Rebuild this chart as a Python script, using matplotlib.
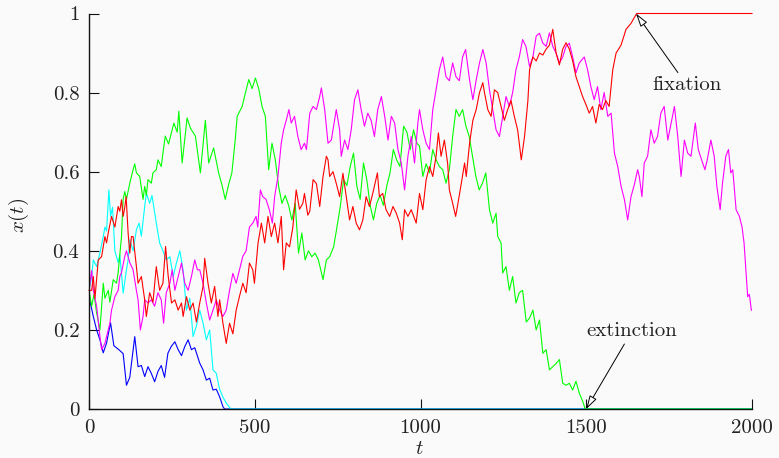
import matplotlib
matplotlib.use("Agg")
import matplotlib.pyplot as plt

plt.rcParams['font.family'] = 'serif'
plt.rcParams['font.serif'] = ['cmr10', 'DejaVu Serif']
plt.rcParams['mathtext.fontset'] = 'cm'
plt.rcParams['axes.formatter.use_mathtext'] = True

# ---- data: (t, x) pairs ----
blue = [(0, 0.30), (2, 0.276), (13, 0.234), (23, 0.20), (33, 0.175), (43, 0.142), (53, 0.167),
        (65, 0.218), (75, 0.16), (90, 0.15), (103, 0.14), (113, 0.06), (123, 0.08), (138, 0.183),
        (148, 0.107), (158, 0.11), (168, 0.082), (178, 0.107), (188, 0.09), (198, 0.069),
        (208, 0.095), (218, 0.11), (228, 0.08), (238, 0.141), (248, 0.158), (259, 0.17),
        (269, 0.15), (279, 0.135), (289, 0.158), (299, 0.175), (309, 0.15), (319, 0.155),
        (334, 0.116), (344, 0.099), (354, 0.073), (364, 0.078), (374, 0.048), (384, 0.05),
        (394, 0.031), (404, 0.006), (409, 0.0), (2000, 0.0)]

cyan = [(0, 0.30), (8, 0.335), (13, 0.377), (23, 0.36), (33, 0.395), (43, 0.436), (48, 0.46),
        (53, 0.45), (60, 0.554), (65, 0.487), (71, 0.51), (78, 0.40), (88, 0.37), (93, 0.39),
        (103, 0.293), (113, 0.352), (118, 0.377), (123, 0.428), (133, 0.40), (143, 0.453),
        (151, 0.47), (158, 0.437), (168, 0.512), (173, 0.546), (183, 0.52), (190, 0.54),
        (203, 0.47), (213, 0.42), (223, 0.40), (233, 0.377), (244, 0.385), (254, 0.335),
        (264, 0.37), (274, 0.40), (284, 0.35), (294, 0.25), (304, 0.28), (314, 0.183),
        (324, 0.21), (334, 0.25), (344, 0.217), (354, 0.175), (364, 0.20), (374, 0.099),
        (384, 0.09), (394, 0.05), (404, 0.03), (414, 0.015), (428, 0.0), (2000, 0.0)]

red = [(0, 0.30), (8, 0.30), (13, 0.335), (18, 0.28), (28, 0.377), (38, 0.385), (48, 0.436),
       (53, 0.42), (58, 0.445), (68, 0.487), (78, 0.46), (88, 0.512), (93, 0.50), (98, 0.529),
       (103, 0.487), (108, 0.51), (112, 0.537), (118, 0.445), (123, 0.394), (128, 0.436),
       (133, 0.436), (143, 0.36), (148, 0.318), (158, 0.335), (168, 0.276), (173, 0.234),
       (183, 0.294), (193, 0.27), (203, 0.36), (213, 0.30), (223, 0.318), (231, 0.411),
       (239, 0.335), (249, 0.268), (259, 0.276), (269, 0.25), (279, 0.268), (284, 0.234),
       (294, 0.284), (304, 0.25), (314, 0.268), (324, 0.22), (334, 0.268), (344, 0.31),
       (349, 0.381), (359, 0.318), (369, 0.268), (379, 0.31), (389, 0.234), (394, 0.276),
       (404, 0.217), (414, 0.166), (424, 0.217), (434, 0.19), (444, 0.25), (454, 0.285),
       (464, 0.318), (474, 0.294), (484, 0.369), (494, 0.352), (499, 0.318), (510, 0.42),
       (520, 0.47), (530, 0.42), (540, 0.487), (550, 0.436), (560, 0.47), (570, 0.42),
       (580, 0.487), (587, 0.352), (595, 0.42), (605, 0.41), (615, 0.46), (625, 0.554),
       (635, 0.505), (645, 0.52), (650, 0.545), (660, 0.49), (666, 0.50), (676, 0.58),
       (686, 0.57), (696, 0.512), (706, 0.588), (716, 0.639), (721, 0.63), (726, 0.588),
       (736, 0.60), (746, 0.57), (756, 0.537), (766, 0.596), (776, 0.537), (786, 0.478),
       (796, 0.512), (806, 0.47), (816, 0.453), (826, 0.478), (836, 0.537), (846, 0.512),
       (856, 0.545), (870, 0.597), (876, 0.537), (886, 0.545), (896, 0.504), (907, 0.487),
       (917, 0.512), (927, 0.495), (937, 0.47), (945, 0.428), (952, 0.504), (962, 0.487),
       (972, 0.504), (987, 0.47), (997, 0.545), (1007, 0.504), (1017, 0.58), (1027, 0.613),
       (1037, 0.588), (1047, 0.639), (1054, 0.698), (1062, 0.639), (1072, 0.68), (1082, 0.62),
       (1087, 0.554), (1097, 0.52), (1106, 0.487), (1113, 0.52), (1123, 0.57), (1133, 0.622),
       (1138, 0.588), (1148, 0.672), (1158, 0.73), (1168, 0.757), (1178, 0.80), (1188, 0.825),
       (1193, 0.80), (1203, 0.757), (1213, 0.74), (1223, 0.807), (1233, 0.80), (1243, 0.765),
       (1253, 0.73), (1263, 0.757), (1273, 0.78), (1283, 0.74), (1293, 0.706), (1304, 0.63),
       (1314, 0.69), (1324, 0.78), (1329, 0.858), (1339, 0.89), (1349, 0.88), (1359, 0.90),
       (1369, 0.895), (1379, 0.91), (1389, 0.92), (1399, 0.96), (1409, 0.90), (1419, 0.87),
       (1429, 0.91), (1439, 0.926), (1449, 0.91), (1459, 0.88), (1469, 0.84), (1479, 0.815),
       (1489, 0.79), (1499, 0.77), (1509, 0.748), (1519, 0.765), (1529, 0.723), (1539, 0.77),
       (1549, 0.757), (1559, 0.78), (1569, 0.765), (1580, 0.858), (1590, 0.90), (1605, 0.92),
       (1620, 0.96), (1635, 0.975), (1645, 0.99), (1652, 1.0), (2000, 1.0)]

green = [(0, 0.30), (8, 0.26), (15, 0.29), (23, 0.243), (33, 0.20), (43, 0.318), (48, 0.28),
         (58, 0.30), (63, 0.27), (73, 0.327), (83, 0.318), (88, 0.345), (98, 0.436), (103, 0.53),
         (108, 0.55), (113, 0.53), (123, 0.571), (128, 0.588), (133, 0.605), (138, 0.62),
         (143, 0.597), (153, 0.588), (163, 0.53), (168, 0.563), (173, 0.54), (178, 0.58),
         (188, 0.571), (193, 0.597), (203, 0.605), (208, 0.63), (218, 0.613), (223, 0.647),
         (230, 0.69), (240, 0.67), (256, 0.723), (266, 0.70), (271, 0.753), (281, 0.622),
         (296, 0.736), (306, 0.71), (321, 0.69), (336, 0.597), (351, 0.73), (361, 0.622),
         (376, 0.66), (391, 0.597), (401, 0.567), (411, 0.53), (421, 0.567), (431, 0.597),
         (441, 0.68), (447, 0.74), (462, 0.765), (472, 0.80), (482, 0.833), (492, 0.81),
         (502, 0.837), (512, 0.81), (522, 0.765), (532, 0.74), (542, 0.605), (552, 0.672),
         (562, 0.63), (572, 0.563), (582, 0.52), (592, 0.54), (602, 0.515), (612, 0.478),
         (622, 0.52), (632, 0.394), (642, 0.445), (652, 0.377), (662, 0.40), (672, 0.385),
         (682, 0.394), (692, 0.377), (706, 0.327), (716, 0.377), (726, 0.385), (738, 0.41),
         (748, 0.46), (758, 0.512), (768, 0.58), (778, 0.565), (788, 0.613), (798, 0.647),
         (808, 0.563), (818, 0.53), (828, 0.622), (838, 0.58), (848, 0.515), (858, 0.478),
         (868, 0.52), (878, 0.54), (888, 0.515), (898, 0.563), (908, 0.597), (918, 0.656),
         (928, 0.63), (938, 0.613), (949, 0.715), (959, 0.70), (969, 0.656), (979, 0.706),
         (989, 0.672), (997, 0.665), (1007, 0.588), (1017, 0.62), (1027, 0.597), (1037, 0.656),
         (1047, 0.63), (1057, 0.613), (1067, 0.605), (1077, 0.571), (1087, 0.605), (1097, 0.689),
         (1107, 0.757), (1117, 0.74), (1127, 0.757), (1137, 0.715), (1147, 0.689), (1157, 0.639),
         (1167, 0.588), (1177, 0.554), (1187, 0.571), (1197, 0.597), (1208, 0.504), (1218, 0.47),
         (1228, 0.495), (1233, 0.436), (1243, 0.42), (1248, 0.344), (1258, 0.36), (1268, 0.30),
         (1278, 0.335), (1288, 0.268), (1298, 0.294), (1308, 0.30), (1319, 0.22), (1329, 0.23),
         (1339, 0.25), (1349, 0.20), (1359, 0.225), (1369, 0.141), (1379, 0.15), (1389, 0.099),
         (1399, 0.107), (1409, 0.115), (1419, 0.125), (1429, 0.065), (1439, 0.06), (1449, 0.065),
         (1459, 0.048), (1469, 0.07), (1479, 0.04), (1489, 0.02), (1497, 0.0), (2000, 0.0)]

magenta = [(0, 0.30), (8, 0.35), (13, 0.30), (23, 0.26), (33, 0.183), (38, 0.15), (48, 0.166),
           (58, 0.20), (63, 0.217), (68, 0.25), (78, 0.284), (88, 0.30), (93, 0.335), (98, 0.345),
           (108, 0.386), (113, 0.40), (123, 0.37), (133, 0.352), (143, 0.30), (148, 0.276),
           (155, 0.20), (163, 0.234), (168, 0.276), (178, 0.268), (188, 0.276), (198, 0.26),
           (208, 0.294), (218, 0.276), (225, 0.217), (233, 0.294), (244, 0.318), (251, 0.352),
           (259, 0.30), (269, 0.335), (279, 0.369), (289, 0.318), (299, 0.30), (309, 0.335),
           (319, 0.377), (327, 0.352), (334, 0.352), (344, 0.318), (354, 0.268), (364, 0.225),
           (374, 0.25), (384, 0.276), (394, 0.25), (404, 0.234), (414, 0.25), (424, 0.30),
           (434, 0.343), (444, 0.318), (454, 0.352), (464, 0.386), (474, 0.40), (484, 0.46),
           (494, 0.47), (504, 0.487), (509, 0.46), (517, 0.554), (524, 0.537), (534, 0.53),
           (544, 0.504), (553, 0.47), (560, 0.537), (570, 0.588), (580, 0.672), (587, 0.706),
           (595, 0.73), (603, 0.757), (610, 0.723), (620, 0.74), (630, 0.689), (640, 0.656),
           (650, 0.672), (656, 0.656), (666, 0.748), (676, 0.765), (686, 0.757), (696, 0.79),
           (701, 0.812), (711, 0.757), (721, 0.672), (731, 0.68), (736, 0.706), (746, 0.757),
           (756, 0.706), (761, 0.639), (771, 0.68), (781, 0.656), (791, 0.706), (801, 0.782),
           (811, 0.807), (821, 0.757), (831, 0.715), (841, 0.748), (851, 0.73), (861, 0.689),
           (871, 0.757), (882, 0.79), (892, 0.74), (902, 0.68), (912, 0.74), (922, 0.723),
           (932, 0.656), (942, 0.622), (952, 0.554), (962, 0.639), (972, 0.689), (982, 0.622),
           (992, 0.723), (997, 0.757), (1007, 0.706), (1017, 0.672), (1027, 0.656), (1037, 0.757),
           (1047, 0.807), (1057, 0.858), (1067, 0.89), (1077, 0.84), (1087, 0.83), (1097, 0.875),
           (1107, 0.84), (1117, 0.83), (1127, 0.89), (1136, 0.909), (1148, 0.832), (1158, 0.782),
           (1168, 0.832), (1178, 0.875), (1188, 0.909), (1198, 0.875), (1208, 0.807), (1218, 0.757),
           (1228, 0.706), (1238, 0.689), (1248, 0.74), (1258, 0.79), (1268, 0.765), (1278, 0.80),
           (1288, 0.858), (1298, 0.89), (1308, 0.934), (1318, 0.917), (1329, 0.866), (1339, 0.89),
           (1349, 0.943), (1359, 0.95), (1369, 0.925), (1379, 0.917), (1389, 0.951), (1399, 0.917),
           (1409, 0.90), (1419, 0.875), (1429, 0.89), (1439, 0.917), (1449, 0.925), (1459, 0.89),
           (1469, 0.85), (1479, 0.875), (1494, 0.89), (1504, 0.858), (1514, 0.815), (1524, 0.782),
           (1534, 0.815), (1544, 0.757), (1554, 0.80), (1565, 0.74), (1575, 0.748), (1585, 0.647),
           (1595, 0.613), (1605, 0.563), (1615, 0.53), (1625, 0.478), (1635, 0.537), (1645, 0.567),
           (1655, 0.605), (1660, 0.588), (1668, 0.537), (1675, 0.622), (1685, 0.639), (1695, 0.706),
           (1705, 0.672), (1715, 0.689), (1725, 0.748), (1735, 0.765), (1746, 0.68), (1756, 0.723),
           (1766, 0.765), (1776, 0.689), (1786, 0.588), (1796, 0.68), (1806, 0.647), (1816, 0.639),
           (1829, 0.723), (1838, 0.656), (1848, 0.63), (1858, 0.605), (1865, 0.63), (1876, 0.68),
           (1886, 0.639), (1894, 0.563), (1904, 0.504), (1911, 0.571), (1921, 0.639), (1929, 0.656),
           (1936, 0.597), (1942, 0.605), (1952, 0.504), (1962, 0.487), (1970, 0.46), (1976, 0.42),
           (1987, 0.284), (1992, 0.29), (1998, 0.25), (2000, 0.25)]

x_ticks = [0, 500, 1000, 1500, 2000]
x_tick_labels = ['0', '500', '1000', '1500', '2000']
y_ticks = [0, 0.2, 0.4, 0.6, 0.8, 1]
y_tick_labels = ['0', '0.2', '0.4', '0.6', '0.8', '1']

series = [(blue, '#0000ff', True), (cyan, '#00ffff', True), (green, '#00ff00', True),
          (magenta, '#ff00ff', True), (red, '#ff0000', False)]

bg = '#fafafa'
fig = plt.figure(figsize=(7.79, 4.58), dpi=100, facecolor=bg)
ax = fig.add_axes([89 / 779, 1 - 409 / 458, 663 / 779, 395.5 / 458])
ax.set_facecolor(bg)

for data, col, clip in series:
    ts, xs = zip(*data)
    ax.plot(ts, xs, color=col, lw=0.8, zorder=2, clip_on=clip)

ax.set_xlim(0, 2000)
ax.set_ylim(0, 1)
ax.spines['top'].set_visible(False)
ax.spines['right'].set_visible(False)
for s in ('left', 'bottom'):
    ax.spines[s].set_linewidth(1.0)
    ax.spines[s].set_color('#111111')
    ax.spines[s].set_zorder(3)

ax.set_xticks(x_ticks)
ax.set_xticklabels(x_tick_labels)
ax.set_yticks(y_ticks)
ax.set_yticklabels(y_tick_labels)
ax.tick_params(direction='in', length=7, width=0.8, labelsize=15, pad=7,
               color='#111111', labelcolor='#222222')

ax.set_xlabel('$t$', fontsize=15, color='#222222')
ax.xaxis.set_label_coords(0.499, -0.078)
ax.set_ylabel('$x(t)$', fontsize=15, color='#222222')
ax.yaxis.set_label_coords(-0.088, 0.49)

arrow = dict(arrowstyle='-|>,head_length=0.55,head_width=0.16', color='black',
             lw=0.7, fc='white', shrinkA=1, shrinkB=0)
ax.annotate('fixation', xy=(1650, 1.0), xytext=(1804, 0.818), ha='center', va='center',
            fontsize=15, color='#222222', arrowprops=arrow, annotation_clip=False)
ax.annotate('extinction', xy=(1500, 0.0), xytext=(1638, 0.197), ha='center', va='center',
            fontsize=15, color='#222222', arrowprops=arrow, annotation_clip=False)

fig.savefig('out.png', dpi=100, facecolor=bg)
